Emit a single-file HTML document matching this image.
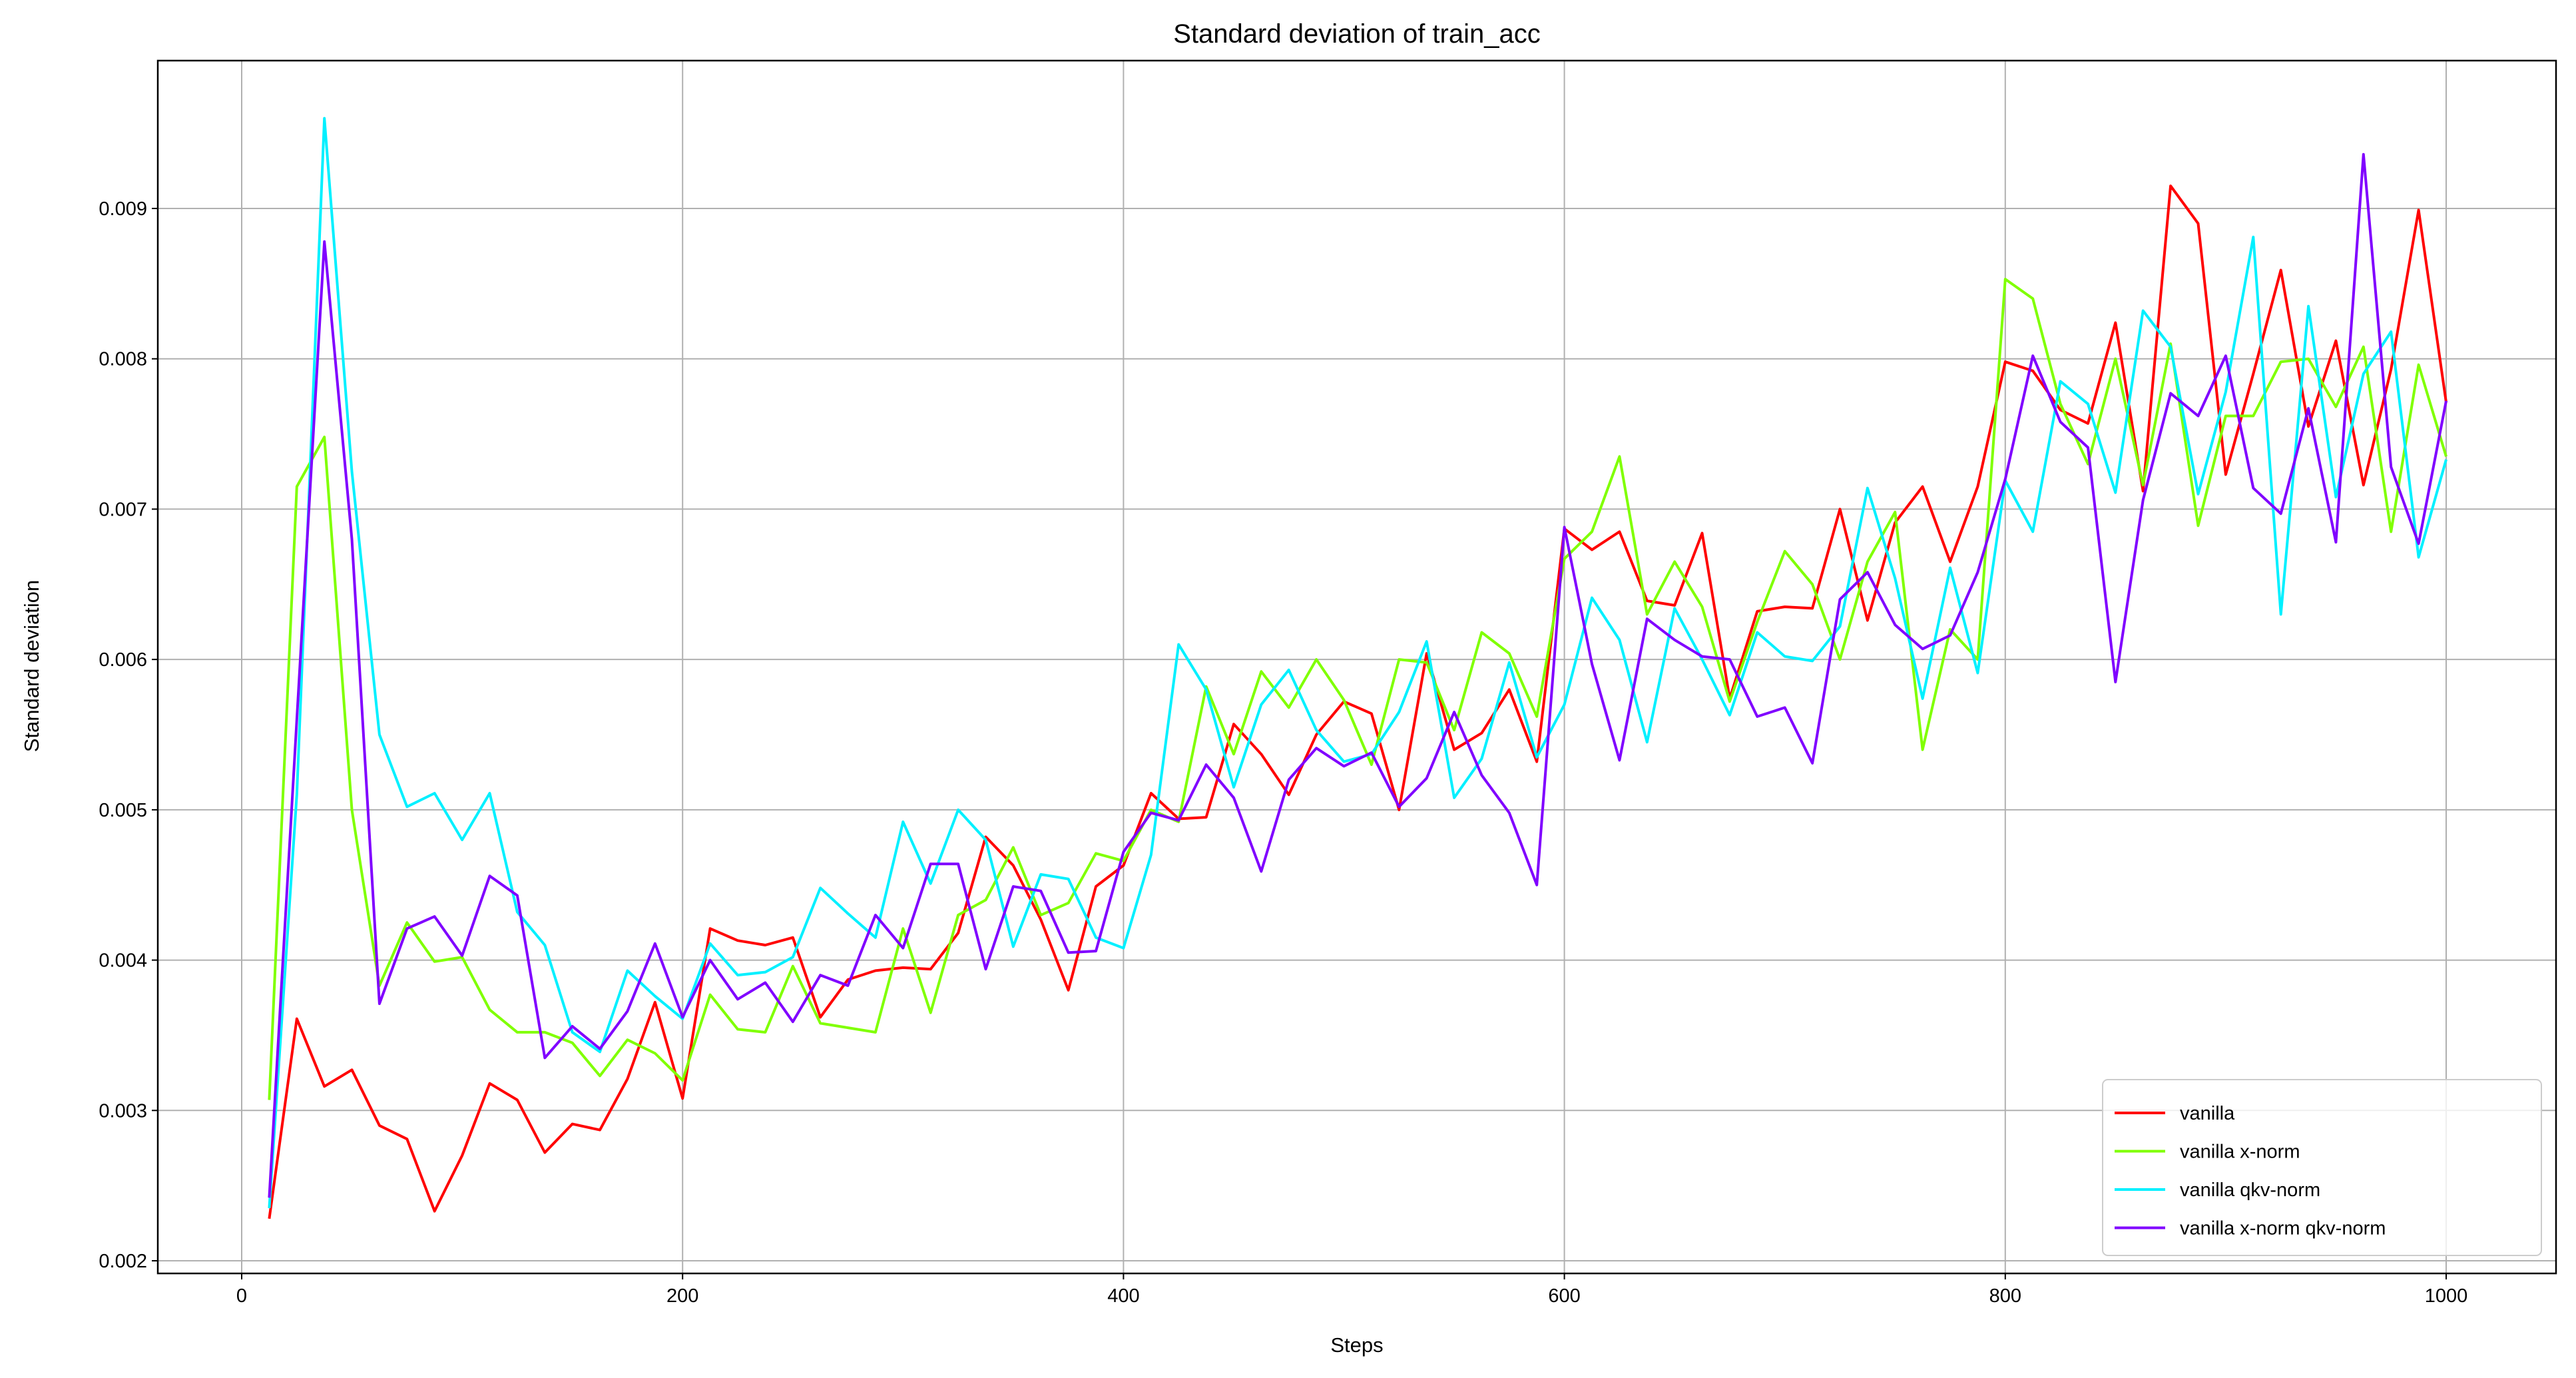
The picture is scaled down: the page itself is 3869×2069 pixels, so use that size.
<!DOCTYPE html>
<html><head><meta charset="utf-8"><style>
html,body{margin:0;padding:0;background:#fff;}
svg{display:block;font-family:"Liberation Sans","DejaVu Sans",sans-serif;}
</style></head><body>
<svg id="chart" xmlns="http://www.w3.org/2000/svg" width="3869" height="2069" viewBox="0 0 3869 2069">
<rect x="0" y="0" width="3869" height="2069" fill="#fff"/>
<g id="grid"></g>
<g id="series"></g>
<rect x="237" y="91" width="3602" height="1821" fill="none" stroke="#000" stroke-width="2.5"/>
<g id="ticks"></g>
<text x="2038" y="64" font-size="40" text-anchor="middle">Standard deviation of train_acc</text>
<text x="2038" y="2030" font-size="31" text-anchor="middle">Steps</text>
<text x="58" y="1000" font-size="31" text-anchor="middle" transform="rotate(-90 58 1000)">Standard deviation</text>
<g id="legend"></g>
</svg>
<script>
const steps = [];
for (let i = 1; i <= 80; i++) steps.push(i * 12.5);
const xTicks = [0, 200, 400, 600, 800, 1000];
const yTicks = [0.002, 0.003, 0.004, 0.005, 0.006, 0.007, 0.008, 0.009];
const yTickLabels = ["0.002","0.003","0.004","0.005","0.006","0.007","0.008","0.009"];
const seriesNames = ["vanilla", "vanilla x-norm", "vanilla qkv-norm", "vanilla x-norm qkv-norm"];
const seriesColors = ["#ff0000", "#80ff00", "#00f0ff", "#8000ff"];
const vanilla = [0.00228,0.00361,0.00316,0.00327,0.00290,0.00281,0.00233,0.00270,0.00318,0.00307,0.00272,0.00291,0.00287,0.00321,0.00372,0.00308,0.00421,0.00413,0.00410,0.00415,0.00362,0.00387,0.00393,0.00395,0.00394,0.00418,0.00482,0.00463,0.00427,0.00380,0.00449,0.00463,0.00511,0.00494,0.00495,0.00557,0.00537,0.00510,0.00550,0.00572,0.00564,0.00500,0.00604,0.00540,0.00551,0.00580,0.00532,0.00687,0.00673,0.00685,0.00639,0.00636,0.00684,0.00574,0.00632,0.00635,0.00634,0.00700,0.00626,0.00691,0.00715,0.00665,0.00715,0.00798,0.00792,0.00766,0.00757,0.00824,0.00712,0.00915,0.00890,0.00723,0.00790,0.00859,0.00755,0.00812,0.00716,0.00793,0.00899,0.00771];
const xnorm = [0.00307,0.00715,0.00748,0.00500,0.00383,0.00425,0.00399,0.00402,0.00367,0.00352,0.00352,0.00345,0.00323,0.00347,0.00338,0.00320,0.00377,0.00354,0.00352,0.00396,0.00358,0.00355,0.00352,0.00421,0.00365,0.00430,0.00440,0.00475,0.00430,0.00438,0.00471,0.00466,0.00500,0.00492,0.00582,0.00537,0.00592,0.00568,0.00600,0.00573,0.00530,0.00600,0.00598,0.00553,0.00618,0.00604,0.00562,0.00667,0.00685,0.00735,0.00630,0.00665,0.00635,0.00572,0.00625,0.00672,0.00650,0.00600,0.00665,0.00698,0.00540,0.00620,0.00600,0.00853,0.00840,0.00770,0.00730,0.00800,0.00716,0.00810,0.00689,0.00762,0.00762,0.00798,0.00800,0.00768,0.00808,0.00685,0.00796,0.00735];
const qkvnorm = [0.00235,0.00510,0.00960,0.00725,0.00550,0.00502,0.00511,0.00480,0.00511,0.00432,0.00410,0.00352,0.00339,0.00393,0.00376,0.00361,0.00411,0.00390,0.00392,0.00402,0.00448,0.00431,0.00415,0.00492,0.00451,0.00500,0.00480,0.00409,0.00457,0.00454,0.00415,0.00408,0.00470,0.00610,0.00580,0.00515,0.00570,0.00593,0.00553,0.00532,0.00537,0.00565,0.00612,0.00508,0.00534,0.00598,0.00535,0.00570,0.00641,0.00613,0.00545,0.00634,0.00600,0.00563,0.00618,0.00602,0.00599,0.00622,0.00714,0.00654,0.00574,0.00661,0.00591,0.00719,0.00685,0.00785,0.00770,0.00711,0.00832,0.00808,0.00710,0.00778,0.00881,0.00630,0.00835,0.00708,0.00790,0.00818,0.00668,0.00733];
const xqkvnorm = [0.00242,0.00560,0.00878,0.00680,0.00371,0.00421,0.00429,0.00403,0.00456,0.00443,0.00335,0.00356,0.00341,0.00366,0.00411,0.00362,0.00400,0.00374,0.00385,0.00359,0.00390,0.00383,0.00430,0.00408,0.00464,0.00464,0.00394,0.00449,0.00446,0.00405,0.00406,0.00472,0.00498,0.00493,0.00530,0.00508,0.00459,0.00520,0.00541,0.00529,0.00538,0.00502,0.00521,0.00565,0.00523,0.00498,0.00450,0.00688,0.00597,0.00533,0.00627,0.00613,0.00602,0.00600,0.00562,0.00568,0.00531,0.00640,0.00658,0.00623,0.00607,0.00616,0.00658,0.00720,0.00802,0.00758,0.00741,0.00585,0.00706,0.00777,0.00762,0.00802,0.00714,0.00697,0.00767,0.00678,0.00936,0.00728,0.00677,0.00772];

const NS = "http://www.w3.org/2000/svg";
const L = 237, R = 3839, T = 91, B = 1912;
function xs(v) { return 363 + (v - 0) * (3674 - 363) / 1000; }
function ys(v) { return 1893 + (v - 0.002) * (313 - 1893) / 0.007; }
function mk(tag, attrs, parent) {
  const e = document.createElementNS(NS, tag);
  for (const k in attrs) e.setAttribute(k, attrs[k]);
  parent.appendChild(e);
  return e;
}
const grid = document.getElementById('grid');
const ticks = document.getElementById('ticks');
xTicks.forEach(t => {
  const x = xs(t);
  const g = mk('line', {x1:x, x2:x, y1:T, y2:B, stroke:'#b0b0b0', 'stroke-width':2}, grid);
  
  
  const tk = mk('line', {x1:x, x2:x, y1:B, y2:B+9, stroke:'#000', 'stroke-width':2}, ticks);
  
  
  const tx = mk('text', {x:x, y:B+43, 'font-size':29, 'text-anchor':'middle'}, ticks);
  tx.textContent = String(t);
  
  
});
yTicks.forEach((t, i) => {
  const y = ys(t);
  const g = mk('line', {x1:L, x2:R, y1:y, y2:y, stroke:'#b0b0b0', 'stroke-width':2}, grid);
  
  
  const tk = mk('line', {x1:L-9, x2:L, y1:y, y2:y, stroke:'#000', 'stroke-width':2}, ticks);
  
  
  const tx = mk('text', {x:L-16, y:y+10, 'font-size':29, 'text-anchor':'end'}, ticks);
  tx.textContent = yTickLabels[i];
  
  
});
const allSeries = [vanilla, xnorm, qkvnorm, xqkvnorm];
const sg = document.getElementById('series');
allSeries.forEach((vals, si) => {
  const pts = vals.map((v, i) => xs(steps[i]).toFixed(1) + ',' + ys(v).toFixed(1)).join(' ');
  const pl = mk('polyline', {points:pts, fill:'none', stroke:seriesColors[si], 'stroke-width':4, 'stroke-linejoin':'round'}, sg);
  
  
});
const lg = document.getElementById('legend');
const box = mk('rect', {x:3158, y:1621, width:659, height:264, rx:8, fill:'#fff', 'fill-opacity':0.8, stroke:'#ccc', 'stroke-width':2}, lg);


seriesNames.forEach((n, i) => {
  const y = 1671 + i * 57.5;
  const ln = mk('line', {x1:3176, x2:3252, y1:y, y2:y, stroke:seriesColors[i], 'stroke-width':4}, lg);
  
  
  const tx = mk('text', {x:3274, y:y+10, 'font-size':29}, lg);
  tx.textContent = n;
  
  
});
</script>
</body></html>
